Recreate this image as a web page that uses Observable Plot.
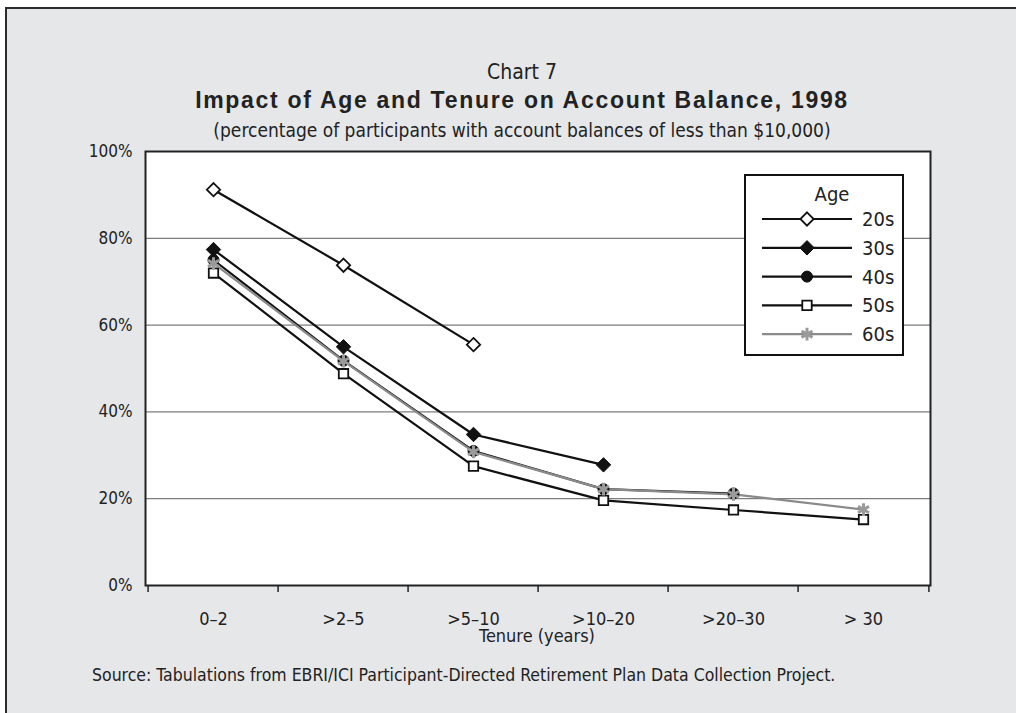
<!DOCTYPE html>
<html><head><meta charset="utf-8">
<script src="https://cdn.jsdelivr.net/npm/d3@7"></script>
<script src="https://cdn.jsdelivr.net/npm/@observablehq/plot@0.6"></script>
<style>
html,body{margin:0;padding:0;background:#fff;width:1016px;height:713px;overflow:hidden;position:relative;}
#box{position:absolute;left:5px;top:7px;width:1040px;height:740px;background:#e6e7e9;border-left:2px solid #2b2b2b;border-top:2px solid #2b2b2b;}
.t{position:absolute;left:0;width:1044px;text-align:center;color:#222;font-family:"Liberation Sans Narrow","Arial Narrow","DejaVu Sans Condensed",sans-serif;white-space:nowrap;}
#chart{position:absolute;left:0;top:140px;}
#legend{position:absolute;left:744px;top:174px;}
</style></head>
<body>
<div id="box"></div>
<div class="t" style="top:60px;font-size:21px;line-height:24px;">Chart 7</div>
<div class="t" style="top:87px;font-size:23px;line-height:26px;font-weight:bold;font-family:'Liberation Sans',Arial,sans-serif;letter-spacing:1.7px;">Impact of Age and Tenure on Account Balance, 1998</div>
<div class="t" style="top:118px;font-size:19px;line-height:24px;">(percentage of participants with account balances of less than $10,000)</div>
<div id="chart"></div>
<div id="legend"></div>
<div class="t" style="top:625px;left:0;width:1074px;font-size:18px;line-height:22px;">Tenure (years)</div>
<div class="t" style="top:664px;left:92px;width:auto;text-align:left;font-size:17.5px;line-height:22px;">Source: Tabulations from EBRI/ICI Participant-Directed Retirement Plan Data Collection Project.</div>
<script>
const tenure = ["0–2", ">2–5", ">5–10", ">10–20", ">20–30", "> 30"];
const ages = ["20s", "30s", "40s", "50s", "60s"];
const pct20s = [91.2, 73.8, 55.5];
const pct30s = [77.4, 55.0, 34.8, 27.8];
const pct40s = [75.0, 51.8, 31.0, 22.2, 21.2];
const pct50s = [72.0, 48.8, 27.5, 19.6, 17.4, 15.2];
const pct60s = [74.2, 51.7, 30.8, 22.2, 21.0, 17.5];
const yTicks = [0, 20, 40, 60, 80, 100];
const gridTicks = [20, 40, 60, 80];

const seriesValues = {"20s": pct20s, "30s": pct30s, "40s": pct40s, "50s": pct50s, "60s": pct60s};
const styles = {
  "20s": {line: "#111", symbol: "diamond2", fill: "#fff", stroke: "#111", r: 6, sw: 1.8},
  "30s": {line: "#111", symbol: "diamond2", fill: "#111", stroke: "#111", r: 6.5, sw: 1},
  "40s": {line: "#111", symbol: "circle", fill: "#111", stroke: "#111", r: 5.5, sw: 1},
  "50s": {line: "#111", symbol: "square2", fill: "#fff", stroke: "#111", r: 6, sw: 1.8},
  "60s": {line: "#8a8a8a", symbol: "asterisk", fill: "none", stroke: "#9a9a9a", r: 6, sw: 3}
};
const rows = {};
for (const a of ages) rows[a] = seriesValues[a].map((v, i) => ({tenure: tenure[i], pct: v, age: a}));

const W = 1016, H = 520, ML = 145, MR = 86, MT = 11, MB = 75;
const half = (W - ML - MR) / tenure.length / 2;
const FONT = '"Liberation Sans Narrow","Arial Narrow","DejaVu Sans Condensed",sans-serif';

const marks = [
  Plot.frame({fill: "#fff"}),
  Plot.gridY(gridTicks, {stroke: "#7d7d7d", strokeOpacity: 1, strokeWidth: 1.2}),
];
for (const a of ages) marks.push(Plot.line(rows[a], {x: "tenure", y: "pct", stroke: styles[a].line, strokeWidth: 2.2}));
for (const a of ages) {
  const s = styles[a];
  marks.push(Plot.dot(rows[a], {x: "tenure", y: "pct", symbol: s.symbol, r: s.r, fill: s.fill, stroke: s.stroke, strokeWidth: s.sw}));
}
marks.push(
  Plot.frame({stroke: "#222", strokeWidth: 2}),
  Plot.axisY(yTicks, {tickSize: 0, tickPadding: 13, tickFormat: d => d + "%", fontSize: 17, label: null}),
  Plot.axisX(tenure, {tickSize: 0, tickPadding: 27, fontSize: 18, label: null}),
  Plot.axisX(tenure, {tickSize: 7, tickFormat: () => "", dx: -half, stroke: "#222", strokeWidth: 1.5, label: null}),
  Plot.axisX([tenure[tenure.length - 1]], {tickSize: 7, tickFormat: () => "", dx: half, stroke: "#222", strokeWidth: 1.5, label: null})
);

const plot = Plot.plot({
  width: W, height: H, marginLeft: ML, marginRight: MR, marginTop: MT, marginBottom: MB,
  x: {type: "band", domain: tenure, padding: 0, label: null},
  y: {domain: [0, 100], label: null},
  style: {background: "transparent", fontFamily: FONT, fontSize: "17px", color: "#222"},
  marks
});
document.getElementById("chart").appendChild(plot);

// legend
const symMap = {diamond2: d3.symbolDiamond2, circle: d3.symbolCircle, square2: d3.symbolSquare2, asterisk: d3.symbolAsterisk};
const lg = d3.select("#legend").append("svg").attr("width", 162).attr("height", 184)
  .style("font-family", FONT).style("font-size", "20px");
lg.append("rect").attr("x", 1).attr("y", 1).attr("width", 158).attr("height", 180)
  .attr("fill", "#fff").attr("stroke", "#111").attr("stroke-width", 2);
lg.append("text").attr("x", 88).attr("y", 20).attr("text-anchor", "middle").attr("dy", "0.35em").attr("fill", "#222").text("Age");
ages.forEach((a, i) => {
  const s = styles[a];
  const y = 45 + i * 28.8;
  lg.append("line").attr("x1", 18).attr("x2", 108).attr("y1", y).attr("y2", y).attr("stroke", s.line).attr("stroke-width", 2.2);
  lg.append("path").attr("transform", `translate(63,${y})`)
    .attr("d", d3.symbol(symMap[s.symbol], s.r * s.r * Math.PI)())
    .attr("fill", s.fill).attr("stroke", s.stroke).attr("stroke-width", s.sw);
  lg.append("text").attr("x", 118).attr("y", y).attr("dy", "0.35em").attr("fill", "#222").text(a);
});
</script>
</body></html>
